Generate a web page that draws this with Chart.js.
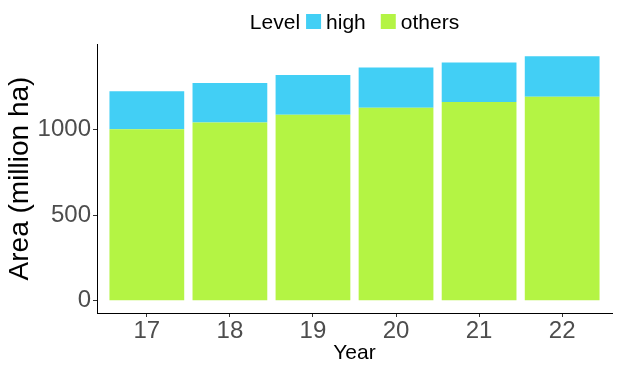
<!DOCTYPE html>
<html>
<head>
<meta charset="utf-8">
<script src="https://cdn.jsdelivr.net/npm/chart.js@4.4.1/dist/chart.umd.min.js"></script>
<style>
  html, body { margin: 0; padding: 0; background: #fff; }
  #wrap { width: 617px; height: 370px; position: relative; }
</style>
</head>
<body>
<div id="wrap"><canvas id="areaChart"></canvas></div>
<script>
// dados
const years = [17, 18, 19, 20, 21, 22];
const othersArea = [1000, 1039, 1085, 1126, 1159, 1190];
const highArea = [222, 230, 232, 234, 230, 236];
const yTicks = [0, 500, 1000];

const FONT = "'Liberation Sans', Arial, Helvetica, sans-serif";
const colorHigh = '#42cff5';
const colorOthers = '#b4f444';

// legenda estilo ggplot: "Level" + caixas, centrada no painel
const ggLegend = {
    id: 'ggLegend',
    afterDraw(chart) {
        const ctx = chart.ctx;
        const area = chart.chartArea;
        const items = [
            { label: 'high', color: colorHigh },
            { label: 'others', color: colorOthers }
        ];
        ctx.save();
        ctx.font = '21px ' + FONT;
        const box = 15;
        const titleW = ctx.measureText('Level').width;
        let total = titleW + 6;
        items.forEach((it, i) => {
            it.w = ctx.measureText(it.label).width;
            total += box + 5 + it.w + (i < items.length - 1 ? 15 : 0);
        });
        let x = (area.left + area.right) / 2 - total / 2;
        const base = 29;
        ctx.fillStyle = '#000';
        ctx.textBaseline = 'alphabetic';
        ctx.fillText('Level', x, base);
        x += titleW + 6;
        items.forEach((it, i) => {
            ctx.fillStyle = it.color;
            ctx.fillRect(x, base - box, box, box);
            x += box + 5;
            ctx.fillStyle = '#000';
            ctx.fillText(it.label, x, base);
            x += it.w + 15;
        });
        ctx.restore();
    }
};

document.addEventListener('DOMContentLoaded', () => {
    const ctx = document.getElementById('areaChart');

    new Chart(ctx, {
        type: 'bar',
        data: {
            datasets: [
                {
                    label: 'others',
                    data: years.map((y, i) => ({ x: y, y: othersArea[i] })),
                    backgroundColor: colorOthers,
                    borderWidth: 0
                },
                {
                    label: 'high',
                    data: years.map((y, i) => ({ x: y, y: highArea[i] })),
                    backgroundColor: colorHigh,
                    borderWidth: 0
                }
            ]
        },
        options: {
            responsive: true,
            maintainAspectRatio: false,
            animation: false,
            barPercentage: 0.9,
            categoryPercentage: 1,
            layout: { padding: { top: 44, right: 5, left: 0, bottom: 0 } },
            plugins: {
                legend: { display: false },
                tooltip: { enabled: false }
            },
            scales: {
                x: {
                    type: 'linear',
                    stacked: true,
                    offset: false,
                    min: years[0] - 0.6,
                    max: years[years.length - 1] + 0.6,
                    afterBuildTicks: (scale) => {
                        scale.ticks = years.map(v => ({ value: v }));
                    },
                    afterFit: (scale) => { scale.height = 57; },
                    grid: { drawOnChartArea: false, offset: false, tickLength: 4, tickColor: '#333' },
                    border: { color: '#000', width: 1 },
                    ticks: {
                        color: '#4d4d4d',
                        padding: 0,
                        font: { size: 24, family: FONT },
                        callback: (v) => String(v)
                    },
                    title: {
                        display: true,
                        text: 'Year',
                        color: '#000',
                        font: { size: 21, family: FONT },
                        padding: { top: 0, bottom: 4 }
                    }
                },
                y: {
                    stacked: true,
                    min: -71,
                    max: 1497,
                    afterBuildTicks: (scale) => {
                        scale.ticks = yTicks.map(v => ({ value: v }));
                    },
                    afterFit: (scale) => { scale.width = 97; },
                    grid: { drawOnChartArea: false, tickLength: 4, tickColor: '#333' },
                    border: { color: '#000', width: 1 },
                    ticks: {
                        color: '#4d4d4d',
                        padding: 2,
                        font: { size: 24, family: FONT },
                        callback: (v) => String(v)
                    },
                    title: {
                        display: true,
                        text: 'Area (million ha)',
                        color: '#000',
                        font: { size: 28, family: FONT },
                        padding: { top: 3, bottom: 0 }
                    }
                }
            }
        },
        plugins: [ggLegend]
    });
});
</script>
</body>
</html>
